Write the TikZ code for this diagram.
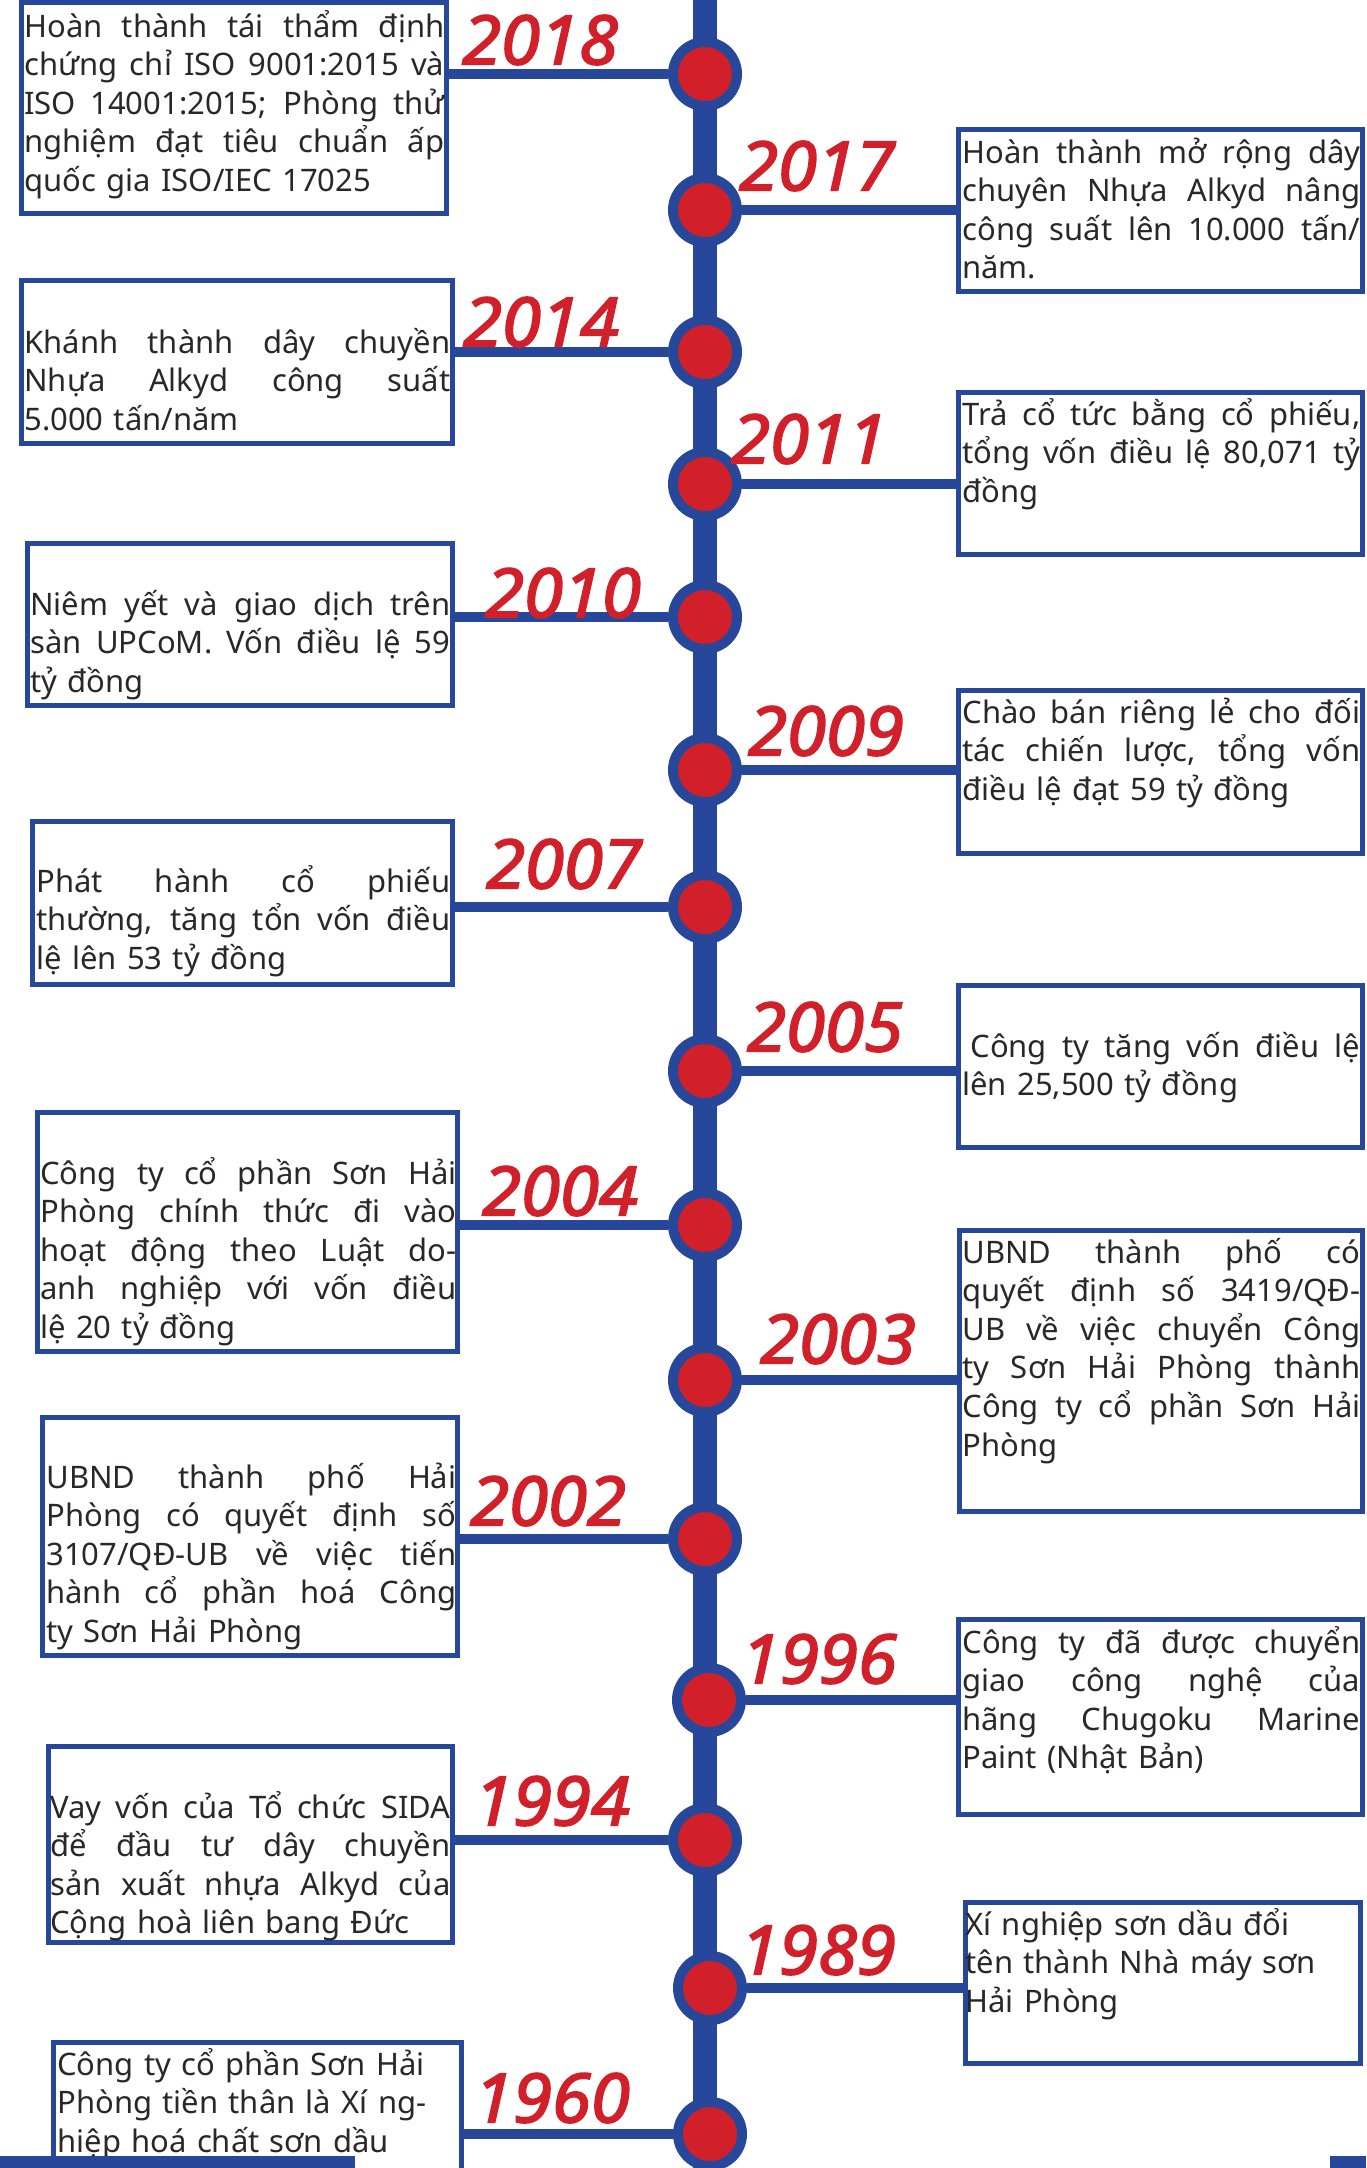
\documentclass[tikz,border=0pt]{standalone}
\usepackage{fontspec}
\setmainfont{Noto Sans}
\newfontfamily\yearfont{Noto Sans}[FakeBold=2.5, FakeStretch=1.04]
\usepackage{tikz}
\usetikzlibrary{positioning, fit, backgrounds}
\definecolor{hpblue}{HTML}{27479B}
\definecolor{hpred}{HTML}{D2202A}
\definecolor{hpink}{HTML}{2B2728}
\newcommand{\fillline}[1]{\leavevmode\hbox to \hsize{\spaceskip=0.26em plus 1fil\relax #1}}

\begin{document}
\begin{tikzpicture}[
   x=0.5pt, y=-0.5pt,
   font=\fontsize{15.5}{19.3}\selectfont,
   spine/.style={hpblue, line width=12pt},
   link/.style={hpblue, line width=5pt},
   box/.style={rectangle, draw=hpblue, line width=2.5pt, inner sep=0pt},
   txt/.style={anchor=base west, inner sep=0pt, text=hpink, align=left, text width=#1},
   txt/.default=199pt,
   dot/.style={circle, draw=hpblue, fill=hpred, line width=5pt,
               minimum size=32pt, inner sep=0pt},
   year/.style={text=hpred, inner sep=0pt,
                font=\yearfont\bfseries\itshape\fontsize{34}{36}\selectfont}]
 \useasboundingbox (0,0) rectangle (1366,2168);
 \coordinate (top) at (705,0);
 \coordinate (bottom) at (705,2168);

 \node[dot] (d2018) at (705,74) {};
 \node[dot] (d2017) at (705,210) {};
 \node[dot] (d2014) at (705,352) {};
 \node[dot] (d2011) at (705,484) {};
 \node[dot] (d2010) at (705,617) {};
 \node[dot] (d2009) at (705,770) {};
 \node[dot] (d2007) at (705,907) {};
 \node[dot] (d2005) at (705,1071) {};
 \node[dot] (d2004) at (705,1225) {};
 \node[dot] (d2003) at (705,1380) {};
 \node[dot] (d2002) at (705,1539) {};
 \node[dot] (d1996) at (709,1700) {};
 \node[dot] (d1994) at (705,1840) {};
 \node[dot] (d1989) at (710,1988) {};
 \node[dot] (d1960) at (710,2134) {};

 \node[box, fit={(21.5,2.5) (446.5,213.5)}] (b2018) {};
 \node[box, fit={(958.5,129.5) (1362.5,291.5)}] (b2017) {};
 \node[box, fit={(21.5,280.5) (452.5,443.5)}] (b2014) {};
 \node[box, fit={(958.5,392.5) (1362.5,554.5)}] (b2011) {};
 \node[box, fit={(27.5,543.5) (452.5,705.5)}] (b2010) {};
 \node[box, fit={(958.5,690.5) (1362.5,853.5)}] (b2009) {};
 \node[box, fit={(32.5,821.5) (452.5,984.5)}] (b2007) {};
 \node[box, fit={(958.5,985.5) (1362.5,1147.5)}] (b2005) {};
 \node[box, fit={(37.5,1112.5) (457.5,1351.5)}] (b2004) {};
 \node[box, fit={(959.5,1230.5) (1362.5,1511.5)}] (b2003) {};
 \node[box, fit={(42.5,1417.5) (457.5,1655.5)}] (b2002) {};
 \node[box, fit={(958.5,1619.5) (1362.5,1814.5)}] (b1996) {};
 \node[box, fit={(48.5,1746.5) (452.5,1942.5)}] (b1994) {};
 \node[box, fit={(965.5,1902.5) (1360.5,2063.5)}] (b1989) {};
 \node[box, fit={(53.5,2042.5) (461.5,2200)}] (b1960) {};

 \node[txt=210pt] (t2018) at (24,37) {\fillline{Hoàn thành tái thẩm định}\\\fillline{chứng chỉ ISO 9001:2015 và}\\\fillline{ISO 14001:2015; Phòng thử}\\\fillline{nghiệm đạt tiêu chuẩn ấp}\\quốc gia ISO/IEC 17025};
 \node[txt] (t2017) at (962,163) {\fillline{Hoàn thành mở rộng dây}\\\fillline{chuyên Nhựa Alkyd nâng}\\\fillline{công suất lên 10.000 tấn/}\\năm.};
 \node[txt=213pt] (t2014) at (24,353) {\fillline{Khánh thành dây chuyền}\\\fillline{Nhựa Alkyd công suất}\\5.000 tấn/năm};
 \node[txt] (t2011) at (962,425) {\fillline{Trả cổ tức bằng cổ phiếu,}\\\fillline{tổng vốn điều lệ 80,071 tỷ}\\đồng};
 \node[txt=210pt] (t2010) at (30,615) {\fillline{Niêm yết và giao dịch trên}\\\fillline{sàn UPCoM. Vốn điều lệ 59}\\tỷ đồng};
 \node[txt] (t2009) at (962,723) {\fillline{Chào bán riêng lẻ cho đối}\\\fillline{tác chiến lược, tổng vốn}\\điều lệ đạt 59 tỷ đồng};
 \node[txt=207pt] (t2007) at (36,892) {\fillline{Phát hành cổ phiếu}\\\fillline{thường, tăng tổn vốn điều}\\lệ lên 53 tỷ đồng};
 \node[txt] (t2005) at (962,1057) {\fillline{\hspace*{4pt}Công ty tăng vốn điều lệ}\\lên 25,500 tỷ đồng};
 \node[txt=208pt] (t2004) at (40,1184) {\fillline{Công ty cổ phần Sơn Hải}\\\fillline{Phòng chính thức đi vào}\\\fillline{hoạt động theo Luật do-}\\\fillline{anh nghiệp với vốn điều}\\lệ 20 tỷ đồng};
 \node[txt] (t2003) at (962,1263) {\fillline{UBND thành phố có}\\\fillline{quyết định số 3419/QĐ-}\\\fillline{UB về việc chuyển Công}\\\fillline{ty Sơn Hải Phòng thành}\\\fillline{Công ty cổ phần Sơn Hải}\\Phòng};
 \node[txt=205pt] (t2002) at (46,1488) {\fillline{UBND thành phố Hải}\\\fillline{Phòng có quyết định số}\\\fillline{3107/QĐ-UB về việc tiến}\\\fillline{hành cổ phần hoá Công}\\ty Sơn Hải Phòng};
 \node[txt] (t1996) at (962,1653) {\fillline{Công ty đã được chuyển}\\\fillline{giao công nghệ của}\\\fillline{hãng Chugoku Marine}\\Paint (Nhật Bản)};
 \node[txt=200pt] (t1994) at (50,1818) {\fillline{Vay vốn của Tổ chức SIDA}\\\fillline{để đầu tư dây chuyền}\\\fillline{sản xuất nhựa Alkyd của}\\Cộng hoà liên bang Đức};
 \node[txt=196pt] (t1989) at (965,1935) {Xí nghiệp sơn dầu đổi\\tên thành Nhà máy sơn\\Hải Phòng};
 \node[txt=201pt] (t1960) at (57,2075) {Công ty cổ phần Sơn Hải\\Phòng tiền thân là Xí ng-\\hiệp hoá chất sơn dầu};

 \node[year] (y2018) at (540,40) {2018};
 \node[year] (y2017) at (817,166) {2017};
 \node[year] (y2014) at (541,322) {2014};
 \node[year] (y2011) at (809,439) {2011};
 \node[year] (y2010) at (563,593) {2010};
 \node[year] (y2009) at (826,731) {2009};
 \node[year] (y2007) at (564,864) {2007};
 \node[year] (y2005) at (825,1027) {2005};
 \node[year] (y2004) at (560,1191) {2004};
 \node[year] (y2003) at (838,1339) {2003};
 \node[year] (y2002) at (548,1501) {2002};
 \node[year] (y1996) at (819,1659) {1996};
 \node[year] (y1994) at (552,1801) {1994};
 \node[year] (y1989) at (818,1950) {1989};
 \node[year] (y1960) at (552,2098) {1960};

 \begin{scope}[on background layer]
  \draw[spine] (top) -- (bottom);
  \draw[link] (d2018) -- (d2018 -| b2018.east);
  \draw[link] (d2017) -- (d2017 -| b2017.west);
  \draw[link] (d2014) -- (d2014 -| b2014.east);
  \draw[link] (d2011) -- (d2011 -| b2011.west);
  \draw[link] (d2010) -- (d2010 -| b2010.east);
  \draw[link] (d2009) -- (d2009 -| b2009.west);
  \draw[link] (d2007) -- (d2007 -| b2007.east);
  \draw[link] (d2005) -- (d2005 -| b2005.west);
  \draw[link] (d2004) -- (d2004 -| b2004.east);
  \draw[link] (d2003) -- (d2003 -| b2003.west);
  \draw[link] (d2002) -- (d2002 -| b2002.east);
  \draw[link] (d1996) -- (d1996 -| b1996.west);
  \draw[link] (d1994) -- (d1994 -| b1994.east);
  \draw[link] (d1989) -- (d1989 -| b1989.west);
  \draw[link] (d1960) -- (d1960 -| b1960.east);
 \end{scope}

 \fill[hpblue] (0,2156) rectangle (355,2168);
 \fill[hpblue] (1330,2156) rectangle (1366,2168);
\end{tikzpicture}
\end{document}
